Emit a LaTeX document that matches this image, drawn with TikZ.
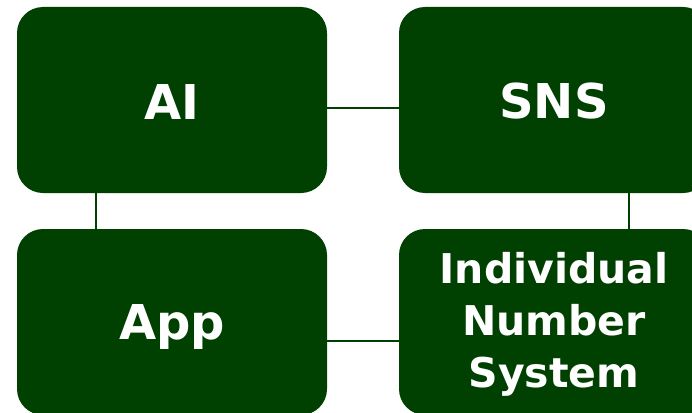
\documentclass[tikz,border=0pt]{standalone}
\usepackage{fontspec}
\setmainfont{DejaVu Sans}
\definecolor{dkgreen}{RGB}{0,64,0}
\newcommand{\lowerby}[2]{\raisebox{-#1}[\height][\depth]{#2}}
\begin{document}
\begin{tikzpicture}[x=1pt,y=-1pt,
  box/.style={draw=none,fill=dkgreen,rounded corners=26pt,minimum width=310pt,minimum height=186pt,
    text=white,font=\bfseries\fontsize{48}{56}\selectfont,align=center,inner sep=0pt},
  small/.style={font=\bfseries\fontsize{41}{52}\selectfont},
  link/.style={draw=dkgreen,line width=2.2pt}]
\useasboundingbox (0,0) rectangle (692,412);
\clip (0,0) rectangle (692,412);
\node[box] (ai) at (172,100) {\lowerby{2pt}{AI}};
\node[box] (sns) at (554,100) {\lowerby{1pt}{SNS}};
\node[box] (app) at (172,322) {\lowerby{5pt}{App}};
\node[box,small] (ins) at (554,322) {\lowerby{3pt}{\begin{tabular}{@{}c@{}}Individual\\Number\\System\end{tabular}}};
\draw[link] ([yshift=-8pt]ai.east) -- ([yshift=-8pt]sns.west);
\draw[link] ([xshift=-76pt]ai.south) -- ([xshift=-76pt]app.north);
\draw[link] ([xshift=75pt]sns.south) -- ([xshift=75pt]ins.north);
\draw[link] ([yshift=-19pt]app.east) -- ([yshift=-19pt]ins.west);
\end{tikzpicture}
\end{document}
